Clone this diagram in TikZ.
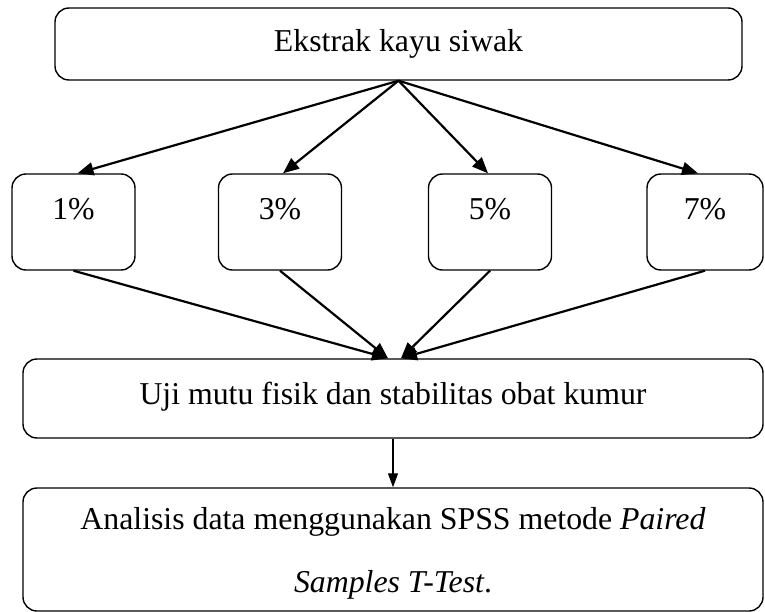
\documentclass[tikz,border=0pt]{standalone}
\usepackage{fontspec}
\setmainfont{Liberation Serif}
\usetikzlibrary{arrows.meta,calc}
\begin{document}
\begin{tikzpicture}[x=1pt,y=-1pt,
  every node/.style={font=\fontsize{31.8}{63}\selectfont},
  box/.style={draw, line width=1.4pt, rounded corners=14pt, inner sep=0pt, align=center},
  pct/.style={box, minimum width=123pt, minimum height=96pt, text depth=27pt},
  arr/.style={line width=2.2pt, -{Triangle[length=16pt,width=13pt]}},
  thinarr/.style={line width=1.1pt, -{Triangle[length=14pt,width=10pt]}}]
\useasboundingbox (0,0) rectangle (765,612);
\node[box, minimum width=687pt, minimum height=72pt] (top) at (398.5,44) {Ekstrak kayu siwak};
\node[pct] (b1) at (73.5,222) {1\%};
\node[pct] (b3) at (280,222) {3\%};
\node[pct] (b5) at (490,222) {5\%};
\node[pct, minimum width=116pt] (b7) at (705,222) {7\%};
\node[box, minimum width=740pt, minimum height=79pt, text depth=10pt] (mid) at (393,398.5) {Uji mutu fisik dan stabilitas obat kumur};
\node[box, minimum width=740pt, minimum height=123pt, text depth=0pt] (bot) at (393,549.5) {Analisis data menggunakan SPSS metode \textit{Paired}\\\textit{Samples T-Test}.};
\coordinate (mL) at ($(mid.north)+(-5,0)$);
\coordinate (mR) at ($(mid.north)+(8,0)$);
\draw[arr] (top.south) -- ($(b1.north)+(4,0)$);
\draw[arr] (top.south) -- ($(b3.north)+(3,0)$);
\draw[arr] (top.south) -- ($(b5.north)+(-2,0)$);
\draw[arr] (top.south) -- ($(b7.north)+(-7,0)$);
\draw[arr] (b1.south) -- (mL);
\draw[arr] (b3.south) -- (mL);
\draw[arr] (b5.south) -- (mR);
\draw[arr] (b7.south) -- (mR);
\draw[thinarr] (mid.south) -- (bot.north);
\end{tikzpicture}
\end{document}
